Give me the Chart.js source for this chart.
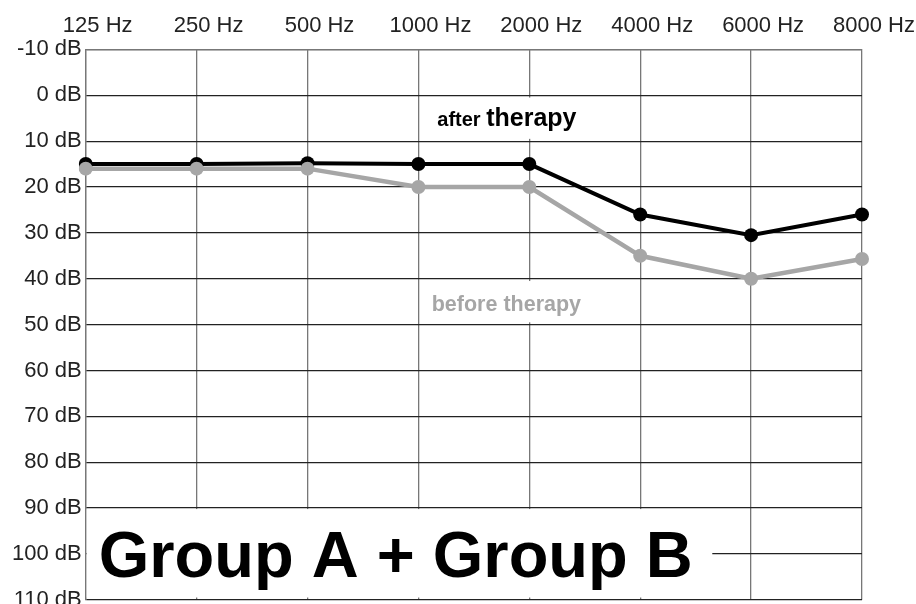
<!DOCTYPE html>
<html>
<head>
<meta charset="utf-8">
<script src="https://cdn.jsdelivr.net/npm/chart.js@4"></script>
<style>
  html, body { margin: 0; padding: 0; background: #fff; overflow: hidden; }
  #wrap { width: 916px; height: 617px; }
</style>
</head>
<body>
<div id="wrap"><canvas id="audio"></canvas></div>
<script>
const frequencies = ["125 Hz", "250 Hz", "500 Hz", "1000 Hz", "2000 Hz", "4000 Hz", "6000 Hz", "8000 Hz"];
const afterTherapy = [15, 15, 14.8, 15, 15, 26, 30.5, 26];
const beforeTherapy = [16, 16, 16, 20, 20, 35, 40, 35.7];
const dbMin = -10;
const dbMax = 110;
const dbStep = 10;

const FONT = "'Liberation Sans', Arial, sans-serif";

// text boxes drawn over the grid but under the lines
const overlay = {
    id: "overlay",
    beforeDatasetsDraw(chart) {
        const { ctx, scales: { x, y } } = chart;
        const px = (i) => x.getPixelForValue(i);
        ctx.save();

        // big group label
        ctx.fillStyle = "#fff";
        ctx.fillRect(x.left + 1, y.getPixelForValue(90) + 1, px(5.65) - x.left - 1, y.getPixelForValue(109.5) - y.getPixelForValue(90) - 1);
        ctx.fillStyle = "#000";
        ctx.font = "bold 65px " + FONT;
        ctx.textBaseline = "alphabetic";
        ctx.fillText("Group A + Group B", x.left + 13, y.getPixelForValue(105.1));

        // after therapy
        ctx.fillStyle = "#fff";
        ctx.fillRect(px(3.05), y.getPixelForValue(0.5), px(4.5) - px(3.05), y.getPixelForValue(9.5) - y.getPixelForValue(0.5));
        ctx.fillStyle = "#000";
        ctx.font = "bold 20px " + FONT;
        const ax = px(3.17);
        const ay = y.getPixelForValue(6.7);
        ctx.fillText("after", ax, ay);
        const aw = ctx.measureText("after ").width;
        ctx.font = "bold 25px " + FONT;
        ctx.fillText("therapy", ax + aw, ay);

        // before therapy
        ctx.fillStyle = "#fff";
        ctx.fillRect(px(3.05), y.getPixelForValue(40.5), px(4.5) - px(3.05), y.getPixelForValue(49.5) - y.getPixelForValue(40.5));
        ctx.fillStyle = "#a6a6a6";
        ctx.font = "bold 21.5px " + FONT;
        ctx.fillText("before therapy", px(3.12), y.getPixelForValue(47));

        ctx.restore();
    }
};

new Chart(document.getElementById("audio"), {
    type: "line",
    data: {
        labels: frequencies,
        datasets: [
            {
                label: "before therapy",
                data: beforeTherapy,
                borderColor: "#a6a6a6",
                backgroundColor: "#a6a6a6",
                borderWidth: 4.5,
                pointRadius: 7,
                pointHoverRadius: 7,
                pointBorderWidth: 0,
                tension: 0,
            },
            {
                label: "after therapy",
                data: afterTherapy,
                borderColor: "#000",
                backgroundColor: "#000",
                borderWidth: 4,
                pointRadius: 7,
                pointHoverRadius: 7,
                pointBorderWidth: 0,
                tension: 0,
            },
        ],
    },
    options: {
        responsive: true,
        maintainAspectRatio: false,
        animation: false,
        layout: {
            padding: { left: 8, right: 54, top: 3, bottom: 0 },
        },
        plugins: {
            legend: { display: false },
            tooltip: { enabled: false },
        },
        scales: {
            x: {
                position: "top",
                offset: false,
                grid: { color: "#777", lineWidth: 1.3, drawTicks: false },
                border: { color: "#777", width: 1.3 },
                ticks: {
                    color: "#222",
                    font: { family: FONT, size: 22 },
                    padding: 10,
                    labelOffset: 12,
                    maxRotation: 0,
                    autoSkip: false,
                },
            },
            y: {
                reverse: true,
                min: dbMin,
                max: dbMax,
                grid: { color: "#222", lineWidth: 1.2, drawTicks: false },
                border: { color: "#777", width: 1.3 },
                ticks: {
                    stepSize: dbStep,
                    color: "#222",
                    font: { family: FONT, size: 22 },
                    padding: 4,
                    callback: (v) => v + " dB",
                },
            },
        },
    },
    plugins: [overlay],
});
</script>
</body>
</html>
